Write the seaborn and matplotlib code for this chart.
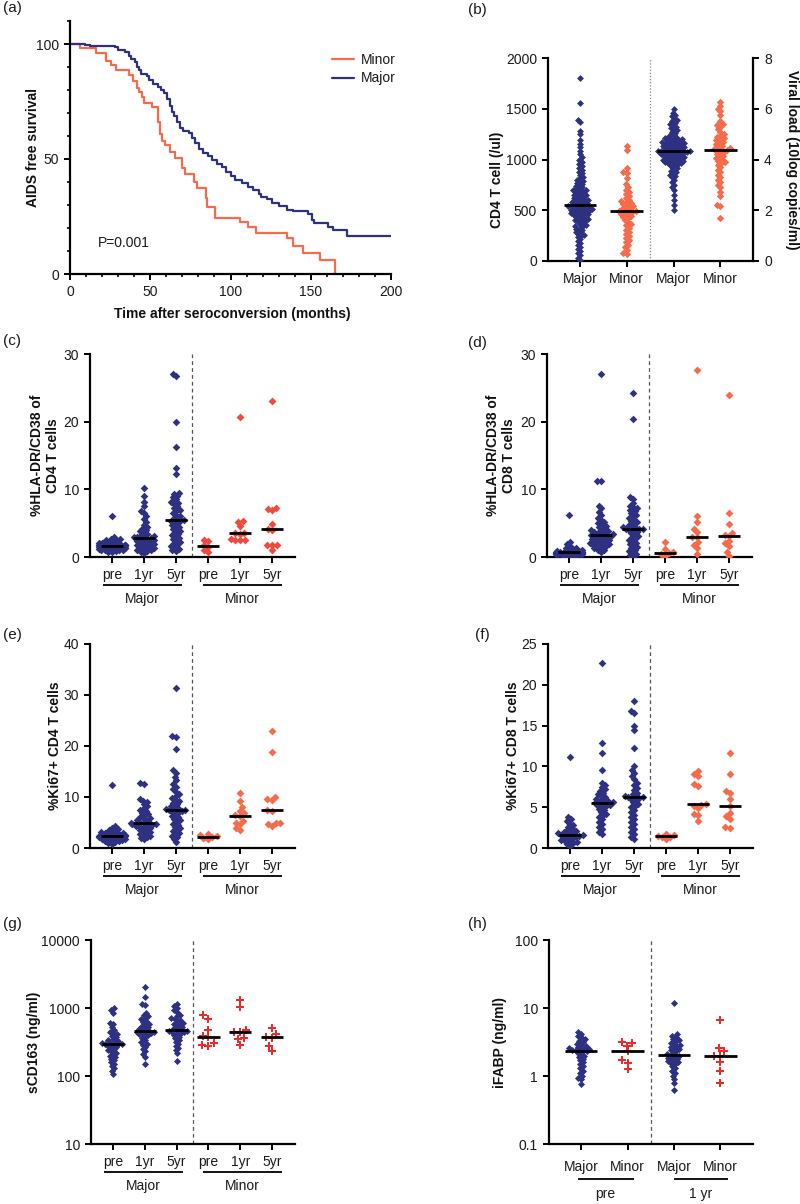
import warnings
warnings.filterwarnings('ignore')
import numpy as np
import pandas as pd
import matplotlib
matplotlib.use('Agg')
import matplotlib.pyplot as plt
import matplotlib.transforms as mtransforms
from matplotlib.ticker import MultipleLocator, NullLocator
import seaborn as sns

# ---------------- DATA ----------------
# (a) Kaplan-Meier AIDS free survival
km_minor_t = [0, 6, 16.5, 22.5, 25.5, 28.5, 37, 39.5, 41.5, 43, 45, 46, 51, 55, 56, 57.5, 59.5, 62.5,
              65.5, 70, 71.5, 77, 79, 84.5, 85.5, 90.5, 106, 111, 116, 135.5, 139, 145, 156, 165]
km_minor_s = [100, 98.1, 96.2, 92.6, 90.7, 88.7, 86.5, 84, 81, 79, 77, 74.5, 72.5, 66, 61, 58, 56, 53,
              50.5, 46, 43.5, 40, 37.5, 33, 29, 24.5, 22.5, 20.5, 18, 15.5, 12, 9, 6, 0]
km_major_t = [0, 9.5, 12.5, 28, 30, 34, 36.5, 38, 40.5, 42, 43, 44.5, 48, 49.5, 52, 55, 57, 58.5, 60.5, 62,
              63.5, 65, 66.5, 68.5, 70.5, 74, 76, 78, 80.5, 83, 86, 88.5, 91.5, 94.5, 97.5, 100, 103, 107,
              111, 114, 117.5, 119, 122.5, 126, 130, 135, 139, 148.5, 150.5, 152, 161, 164, 172.5, 200]
km_major_s = [100, 99.5, 99, 98.5, 97.5, 96.5, 95, 93.5, 92, 90, 88.5, 87, 86, 84.5, 82.5, 81.5, 80, 78.5,
              76, 73, 70.5, 68.5, 66, 63.5, 62, 61.5, 59, 57, 54.5, 52.5, 51.5, 49.5, 48, 46.5, 44.5, 42.5,
              41, 39.5, 38, 36.5, 35, 33.5, 32.5, 31, 29.5, 28, 27.5, 26, 23.5, 22, 20.5, 19, 16.5, 16.5]
km_p_text = "P=0.001"

# (b) CD4 count and viral load
cd4_major = [1800, 1560, 1390, 1370, 1280, 1250, 1190, 1150, 1120, 1080, 1050, 1020, 1000, 980, 960, 940,
             920, 900, 880, 870, 850, 830, 820, 800, 790, 780, 770, 760, 750, 740, 730, 720, 710, 700, 700,
             690, 680, 670, 660, 650, 650, 640, 630, 620, 610, 600, 600, 590, 580, 570, 560, 560, 550, 540,
             530, 525, 520, 515, 510, 505, 500, 495, 490, 485, 480, 470, 460, 455, 450, 440, 430, 420, 410,
             400, 395, 390, 380, 370, 360, 350, 345, 340, 330, 320, 310, 300, 290, 280, 270, 260, 250, 240,
             220, 200, 180, 160, 140, 120, 100, 80, 60, 30, 5, 620, 580, 540, 510, 470, 430, 600, 560, 490,
             650, 700, 680, 530, 460, 410]
cd4_minor = [1130, 1090, 920, 880, 870, 820, 760, 730, 700, 680, 660, 640, 620, 600, 590, 580, 570, 560,
             550, 540, 530, 520, 510, 500, 495, 490, 485, 480, 470, 460, 450, 440, 430, 420, 400, 380, 360,
             350, 330, 310, 290, 270, 250, 230, 210, 190, 160, 140, 110, 80, 70]
vl_major = [6.0, 5.85, 5.75, 5.7, 5.6, 5.55, 5.5, 5.45, 5.4, 5.35, 5.3, 5.25, 5.2, 5.15, 5.1, 5.05, 5.0, 4.95,
            4.9, 4.88, 4.85, 4.82, 4.8, 4.78, 4.75, 4.72, 4.7, 4.68, 4.65, 4.62, 4.6, 4.58, 4.55, 4.52, 4.5,
            4.48, 4.45, 4.42, 4.4, 4.38, 4.35, 4.33, 4.3, 4.3, 4.28, 4.25, 4.22, 4.2, 4.18, 4.15, 4.12, 4.1,
            4.08, 4.05, 4.02, 4.0, 3.98, 3.95, 3.92, 3.9, 3.88, 3.85, 3.82, 3.8, 3.75, 3.7, 3.65, 3.6, 3.55,
            3.5, 3.45, 3.4, 3.35, 3.3, 3.2, 3.1, 3.0, 2.9, 2.8, 2.6, 2.4, 2.2, 2.0, 4.6, 4.5, 4.4, 4.3, 4.2,
            4.1, 4.0, 4.55, 4.45, 4.35, 4.25, 4.15, 4.05, 4.65, 4.75, 4.85, 3.95, 3.85, 4.32, 4.28]
vl_minor = [6.25, 6.1, 6.0, 5.9, 5.75, 5.5, 5.4, 5.35, 5.3, 5.2, 5.1, 5.0, 4.95, 4.9, 4.85, 4.8, 4.75, 4.7,
            4.65, 4.6, 4.55, 4.5, 4.45, 4.42, 4.4, 4.38, 4.35, 4.3, 4.25, 4.2, 4.15, 4.1, 4.05, 4.0, 3.95,
            3.9, 3.85, 3.8, 3.7, 3.6, 3.5, 3.4, 3.3, 3.2, 3.1, 3.0, 2.9, 2.7, 2.55, 2.2, 2.15, 1.7]

# (c) %HLA-DR/CD38 of CD4 T cells
c_major_pre = [6.1, 2.9, 2.7, 2.6, 2.5, 2.4, 2.3, 2.2, 2.1, 2.0, 2.0, 1.9, 1.9, 1.8, 1.8, 1.8, 1.7, 1.7, 1.7,
               1.6, 1.6, 1.6, 1.5, 1.5, 1.5, 1.4, 1.4, 1.3, 1.3, 1.2, 1.2, 1.1, 1.1, 1.0, 1.0, 0.9, 0.8, 0.7]
c_major_1yr = [10.2, 9.0, 8.2, 7.5, 6.8, 6.5, 6.0, 5.6, 5.2, 4.8, 4.5, 4.2, 4.0, 3.8, 3.6, 3.4, 3.2, 3.1,
               3.0, 2.9, 2.9, 2.8, 2.7, 2.6, 2.5, 2.4, 2.3, 2.2, 2.1, 2.0, 1.9, 1.8, 1.7, 1.6, 1.5, 1.4,
               1.3, 1.2, 1.1, 1.0, 0.9, 0.8, 0.6]
c_major_5yr = [27.0, 26.8, 19.9, 16.3, 13.2, 12.2, 9.5, 9.3, 9.0, 8.8, 8.5, 8.2, 8.0, 7.8, 7.5, 7.2, 7.0,
               6.8, 6.5, 6.2, 6.0, 5.8, 5.6, 5.5, 5.4, 5.3, 5.2, 5.0, 4.8, 4.6, 4.4, 4.2, 4.0, 3.8, 3.6,
               3.4, 3.2, 3.0, 2.8, 2.6, 2.4, 2.2, 2.0, 1.8, 1.6, 1.4, 1.2, 1.0, 0.9]
c_minor_pre = [2.5, 2.3, 1.8, 1.5, 1.0, 0.8]
c_minor_1yr = [20.7, 5.3, 5.2, 4.6, 3.6, 3.5, 3.4, 2.6, 2.5, 2.5, 2.5]
c_minor_5yr = [23.0, 7.2, 7.1, 6.9, 4.9, 4.2, 4.0, 1.8, 1.8, 1.7, 1.0]

# (d) %HLA-DR/CD38 of CD8 T cells
d_major_pre = [6.2, 2.2, 1.9, 1.6, 1.4, 1.3, 1.2, 1.1, 1.0, 0.9, 0.9, 0.8, 0.8, 0.8, 0.7, 0.7, 0.7, 0.7,
               0.6, 0.6, 0.6, 0.5, 0.5, 0.5, 0.4, 0.4, 0.3, 0.3, 0.2, 0.2, 0.1]
d_major_1yr = [27.1, 11.3, 11.2, 7.6, 7.2, 6.6, 6.2, 5.8, 5.5, 5.2, 5.0, 4.8, 4.6, 4.4, 4.2, 4.0, 3.9, 3.8,
               3.7, 3.6, 3.5, 3.4, 3.3, 3.3, 3.2, 3.1, 3.0, 2.9, 2.8, 2.7, 2.6, 2.5, 2.4, 2.3, 2.2, 2.1,
               2.0, 1.9, 1.8, 1.7, 1.6, 1.5, 1.3, 1.1, 1.0, 0.8]
d_major_5yr = [24.3, 20.4, 8.8, 8.6, 8.0, 7.6, 7.4, 7.2, 7.0, 6.8, 6.5, 6.2, 6.0, 5.8, 5.5, 5.3, 5.1, 4.9,
               4.7, 4.5, 4.4, 4.3, 4.2, 4.2, 4.1, 4.0, 3.9, 3.7, 3.5, 3.3, 3.1, 2.9, 2.7, 2.5, 2.3, 2.1,
               1.9, 1.7, 1.5, 1.3, 1.1, 0.9, 0.7, 0.5, 0.3, 0.1]
d_minor_pre = [2.2, 1.2, 0.7, 0.6, 0.5, 0.2]
d_minor_1yr = [27.6, 6.1, 5.1, 4.2, 3.7, 3.0, 2.9, 2.2, 1.8, 1.3, 0.4]
d_minor_5yr = [23.9, 6.5, 4.9, 3.6, 3.3, 3.1, 2.3, 2.0, 1.6, 0.8, 0.2]

# (e) %Ki67+ CD4 T cells
e_major_pre = [12.3, 4.3, 4.0, 3.8, 3.6, 3.4, 3.2, 3.1, 3.0, 2.9, 2.8, 2.7, 2.6, 2.5, 2.4, 2.4, 2.3, 2.3,
               2.2, 2.2, 2.1, 2.0, 1.9, 1.8, 1.7, 1.6, 1.5, 1.4, 1.3, 1.2, 1.0, 0.8]
e_major_1yr = [12.7, 12.5, 9.6, 9.3, 9.0, 8.6, 8.2, 7.8, 7.5, 7.2, 6.9, 6.6, 6.3, 6.0, 5.8, 5.6, 5.4, 5.2,
               5.0, 4.9, 4.9, 4.8, 4.7, 4.6, 4.5, 4.4, 4.3, 4.2, 4.0, 3.8, 3.6, 3.4, 3.2, 3.0, 2.8, 2.6,
               2.4, 2.2, 2.0, 1.7]
e_major_5yr = [31.3, 21.9, 21.7, 19.5, 15.2, 14.8, 14.0, 13.3, 12.5, 12.0, 11.5, 11.0, 10.5, 10.2, 9.8, 9.5,
               9.2, 8.9, 8.6, 8.3, 8.0, 7.8, 7.6, 7.5, 7.4, 7.3, 7.2, 7.0, 6.8, 6.5, 6.2, 6.0, 5.7, 5.4,
               5.1, 4.8, 4.5, 4.2, 3.9, 3.6, 3.3, 3.0, 2.7, 2.4, 2.1, 1.8, 1.2]
e_minor_pre = [2.7, 2.6, 2.3, 2.2, 2.0, 1.8]
e_minor_1yr = [10.8, 9.2, 8.0, 7.2, 6.8, 6.4, 6.3, 5.3, 5.0, 4.7, 4.0, 3.5]
e_minor_5yr = [23.0, 18.8, 10.0, 9.6, 9.4, 7.4, 7.2, 5.0, 4.9, 4.8, 4.4]

# (f) %Ki67+ CD8 T cells
f_major_pre = [11.2, 3.8, 3.5, 3.3, 3.0, 2.8, 2.6, 2.4, 2.2, 2.1, 2.0, 1.9, 1.8, 1.7, 1.7, 1.6, 1.6, 1.5,
               1.5, 1.4, 1.3, 1.2, 1.1, 1.0, 0.9, 0.8, 0.7, 0.6, 0.5, 0.3]
f_major_1yr = [22.7, 12.9, 11.7, 9.5, 8.0, 7.7, 7.5, 7.2, 7.0, 6.8, 6.6, 6.4, 6.2, 6.0, 5.9, 5.8, 5.7, 5.6,
               5.5, 5.5, 5.4, 5.3, 5.2, 5.1, 5.0, 4.8, 4.6, 4.4, 4.2, 4.0, 3.8, 3.5, 3.2, 2.9, 2.6, 2.3,
               2.0, 1.7]
f_major_5yr = [18.0, 16.8, 16.5, 15.0, 14.4, 12.3, 10.0, 9.6, 9.2, 8.8, 8.4, 8.0, 7.7, 7.4, 7.1, 6.8, 6.6,
               6.4, 6.3, 6.2, 6.2, 6.1, 6.0, 5.8, 5.6, 5.4, 5.2, 5.0, 4.7, 4.4, 4.1, 3.8, 3.5, 3.2, 2.9,
               2.6, 2.3, 2.0, 1.7, 1.4, 1.1]
f_minor_pre = [1.7, 1.6, 1.5, 1.4, 1.4, 1.1]
f_minor_1yr = [9.4, 9.1, 8.8, 7.8, 7.6, 5.4, 5.3, 5.2, 4.9, 4.2, 4.0, 3.3]
f_minor_5yr = [11.7, 9.1, 7.0, 6.7, 6.0, 5.1, 4.3, 3.9, 3.6, 2.6, 2.5]

# (g) sCD163 (ng/ml)
g_major_pre = [1000, 930, 850, 600, 580, 520, 480, 450, 430, 410, 390, 370, 350, 340, 330, 320, 310, 305,
               300, 300, 295, 290, 280, 270, 260, 250, 240, 230, 220, 210, 200, 190, 180, 170, 160, 150,
               140, 130, 120, 108]
g_major_1yr = [2050, 1450, 1150, 1100, 850, 800, 760, 720, 680, 650, 620, 590, 570, 550, 530, 510, 490, 470,
               460, 450, 450, 440, 430, 420, 410, 400, 380, 360, 340, 320, 300, 290, 270, 250, 230, 210,
               190, 150]
g_major_5yr = [1150, 1080, 1000, 920, 860, 800, 760, 720, 690, 660, 630, 600, 580, 560, 540, 520, 500, 480,
               470, 460, 455, 450, 440, 430, 420, 400, 380, 360, 340, 320, 300, 280, 260, 240, 215, 165]
g_minor_pre = [780, 700, 470, 390, 370, 310, 290, 280]
g_minor_1yr = [1300, 1020, 470, 450, 440, 360, 350, 290]
g_minor_5yr = [510, 420, 380, 360, 280, 235]

# (h) iFABP (ng/ml)
h_pre_major = [4.5, 4.2, 3.9, 3.7, 3.5, 3.3, 3.2, 3.0, 2.9, 2.8, 2.7, 2.6, 2.55, 2.5, 2.45, 2.4, 2.4, 2.35,
               2.3, 2.2, 2.1, 2.0, 1.9, 1.8, 1.7, 1.6, 1.5, 1.4, 1.3, 1.2, 1.1, 1.0, 0.95, 0.9, 0.75]
h_pre_minor = [3.2, 3.1, 2.8, 2.3, 1.7, 1.55, 1.25]
h_1yr_major = [12.0, 4.1, 3.9, 3.7, 3.5, 3.4, 3.3, 3.1, 3.0, 2.9, 2.8, 2.7, 2.6, 2.5, 2.4, 2.3, 2.2, 2.1,
               2.05, 2.0, 1.95, 1.9, 1.85, 1.8, 1.75, 1.7, 1.65, 1.6, 1.55, 1.5, 1.4, 1.3, 1.2, 1.1, 1.0,
               0.9, 0.8, 0.62]
h_1yr_minor = [6.7, 2.6, 2.3, 2.0, 1.95, 1.6, 1.2, 0.8]

time_tick_labels = ['pre', '1yr', '5yr', 'pre', '1yr', '5yr']
group_tick_labels = ['Major', 'Minor', 'Major', 'Minor']

# ---------------- STYLE ----------------
NAVY = '#2e3182'
SALMON = '#f46c4c'
RED_C = '#ef4a3e'
RED = '#ee2b2b'

sns.set_theme(style='ticks')
plt.rcParams['font.family'] = ['Liberation Sans', 'DejaVu Sans']
plt.rcParams.update({
    'axes.linewidth': 1.6, 'axes.edgecolor': 'black',
    'xtick.major.width': 1.4, 'ytick.major.width': 1.4,
    'xtick.major.size': 4.5, 'ytick.major.size': 4.5,
    'xtick.minor.width': 1.2, 'ytick.minor.width': 1.2,
    'xtick.minor.size': 2.5, 'ytick.minor.size': 2.5,
    'xtick.labelsize': 10, 'ytick.labelsize': 10,
    'xtick.color': 'black', 'ytick.color': 'black',
    'xtick.labelcolor': '#1a1a1a', 'ytick.labelcolor': '#1a1a1a',
    'axes.labelsize': 10, 'axes.labelweight': 'bold', 'axes.labelcolor': '#111111',
    'text.color': '#1a1a1a',
})

W, H = 800, 1204
fig = plt.figure(figsize=(W / 100, H / 100), dpi=100)


def add_ax(l, r, t, b):
    return fig.add_axes([l / W, 1 - b / H, (r - l) / W, (b - t) / H])


def base_style(ax):
    for s in ['top', 'right']:
        ax.spines[s].set_visible(False)


def set_ylabel(ax, text, x, y=0.5, rotation=90):
    ax.set_ylabel(text, rotation=rotation, fontweight='bold', fontsize=10, linespacing=1.15)
    ax.yaxis.set_label_coords(x, y)
    ax.yaxis.label.set_verticalalignment('center')


def draw_swarm(ax, cats, series, groups, colors, markers, sizes, scales, log=False):
    """sizes: swarm spacing size (pt); scales: how much bigger the drawn marker is than that spacing."""
    rows = []
    for cat, vals, g in zip(cats, series, groups):
        for v in vals:
            rows.append((cat, v, g))
    df = pd.DataFrame(rows, columns=['cat', 'val', 'grp'])
    for g in dict.fromkeys(groups):
        if g is None:
            continue
        sub = df[df['grp'] == g]
        n_before = len(ax.collections)
        sns.swarmplot(data=sub, x='cat', y='val', order=cats, color=colors[g], marker=markers[g],
                      size=sizes[g], linewidth=0, ax=ax,
                      log_scale=(True if log else None), warn_thresh=1, zorder=3)
        grow = mtransforms.Affine2D().scale(scales[g])
        for coll in ax.collections[n_before:]:
            coll.set_paths([p.transformed(grow) for p in coll.get_paths()])
    for i, vals in enumerate(series):
        if len(vals):
            ax.hlines(np.median(vals), i - 0.35, i + 0.35, colors='black', lw=2, zorder=6)
    ax.set_xlabel('')


def group_lines(ax, spans, labels, line_off, text_off):
    tl = ax.get_xaxis_transform() + mtransforms.ScaledTranslation(0, -line_off / 100, fig.dpi_scale_trans)
    for (x0, x1), lab in zip(spans, labels):
        ax.plot([x0, x1], [0, 0], transform=tl, color='black', lw=1.3, clip_on=False,
                solid_capstyle='butt')
        ax.annotate(lab, xy=((x0 + x1) / 2, 0), xycoords=ax.get_xaxis_transform(),
                    xytext=(0, -text_off * 0.72), textcoords='offset points',
                    ha='center', va='center', fontsize=10)


def panel_label(x, y, s):
    fig.text(x / W, 1 - y / H, s, ha='left', va='center', fontsize=11, color='#1a1a1a')


# ---------------- (a) ----------------
ax = add_ax(70, 391, 21, 274)
base_style(ax)
sns.lineplot(x=km_minor_t, y=km_minor_s, drawstyle='steps-post', color=SALMON, lw=1.6,
             label='Minor', estimator=None, sort=False, ax=ax)
sns.lineplot(x=km_major_t, y=km_major_s, drawstyle='steps-post', color=NAVY, lw=1.6,
             label='Major', estimator=None, sort=False, ax=ax)
ax.set_xlim(0, 200)
ax.set_ylim(0, 110)
ax.set_xticks([0, 50, 100, 150, 200])
ax.set_yticks([0, 50, 100])
ax.xaxis.set_minor_locator(MultipleLocator(10))
ax.yaxis.set_minor_locator(MultipleLocator(10))
ax.set_xlabel('Time after seroconversion (months)', fontweight='bold', fontsize=10)
ax.xaxis.set_label_coords(0.505, -0.13)
ax.xaxis.label.set_verticalalignment('top')
set_ylabel(ax, 'AIDS free survival', -0.115, 0.5)
ax.legend(frameon=False, loc='upper left', bbox_to_anchor=(0.816, 0.875), fontsize=10,
          handlelength=1.6, handletextpad=0.5, labelspacing=0.35, borderaxespad=0, borderpad=0)
ax.text(17.5, 13.5, km_p_text, va='center', ha='left', fontsize=10)
panel_label(3, 8, '(a)')

# ---------------- (b) ----------------
ax = add_ax(548, 753, 58, 261)
ax2 = ax.twinx()
b_cats = ['cd4_major', 'cd4_minor', 'vl_major', 'vl_minor']
b_colors = {'Major': NAVY, 'Minor': SALMON}
b_markers = {'Major': 'D', 'Minor': 'D'}
b_sizes = {'Major': 2.2, 'Minor': 2.6}
b_scales = {'Major': 1.6, 'Minor': 1.45}
draw_swarm(ax, b_cats, [cd4_major, cd4_minor, [], []], ['Major', 'Minor', None, None],
           b_colors, b_markers, b_sizes, b_scales)
draw_swarm(ax2, b_cats, [[], [], vl_major, vl_minor], [None, None, 'Major', 'Minor'],
           b_colors, b_markers, b_sizes, b_scales)
for a in (ax, ax2):
    a.spines['top'].set_visible(False)
ax.spines['right'].set_visible(False)
ax2.spines['left'].set_visible(False)
ax2.spines['bottom'].set_visible(False)
ax2.spines['right'].set_linewidth(1.6)
ax.set_xlim(-0.685, 3.7)
ax2.set_xlim(-0.685, 3.7)
ax.set_ylim(0, 2000)
ax.set_yticks([0, 500, 1000, 1500, 2000])
ax2.set_ylim(0, 8)
ax2.set_yticks([0, 2, 4, 6, 8])
ax.set_xticks(range(4))
ax.set_xticklabels(group_tick_labels)
ax.axvline(1.5, color='#888888', lw=0.9, ls=(0, (1, 1.5)), zorder=1)
set_ylabel(ax, 'CD4 T cell (/ul)', -0.25, 0.40)
ax2.set_ylabel('Viral load (10log copies/ml)', rotation=270, fontweight='bold', fontsize=10)
ax2.yaxis.set_label_coords(1.19, 0.5)
ax2.yaxis.label.set_verticalalignment('center')
panel_label(468, 10, '(b)')

# ---------------- (c)-(g) ----------------
six_cats = ['Major pre', 'Major 1yr', 'Major 5yr', 'Minor pre', 'Minor 1yr', 'Minor 5yr']
six_groups = ['Major', 'Major', 'Major', 'Minor', 'Minor', 'Minor']
group_spans = [(-0.28, 2.19), (2.84, 5.31)]


def six_panel(box, series, minor_color, ylim, yticks, ylabel, lab_x, plabel, plabel_xy,
              log=False, yticklabels=None, minor_marker='D', major_size=2.6, minor_size=3.2,
              major_scale=1.5, minor_scale=1.25):
    ax = add_ax(*box)
    base_style(ax)
    draw_swarm(ax, six_cats, series, six_groups, {'Major': NAVY, 'Minor': minor_color},
               {'Major': 'D', 'Minor': minor_marker}, {'Major': major_size, 'Minor': minor_size},
               {'Major': major_scale, 'Minor': minor_scale}, log=log)
    ax.set_xlim(-0.69, 5.72)
    ax.set_ylim(*ylim)
    ax.set_yticks(yticks)
    if yticklabels is not None:
        ax.set_yticklabels(yticklabels)
    ax.yaxis.set_minor_locator(NullLocator())
    ax.set_xticks(range(6))
    ax.set_xticklabels(time_tick_labels)
    ax.axvline(2.5, color='#555555', lw=0.9, ls=(0, (3, 2.5)), zorder=1)
    set_ylabel(ax, ylabel, lab_x, 0.5)
    group_lines(ax, group_spans, ['Major', 'Minor'], 28, 42)
    panel_label(plabel_xy[0], plabel_xy[1], plabel)
    return ax


six_panel((90, 295, 354, 557), [c_major_pre, c_major_1yr, c_major_5yr, c_minor_pre, c_minor_1yr, c_minor_5yr],
          RED_C, (0, 30), [0, 10, 20, 30], '%HLA-DR/CD38 of\nCD4 T cells', -0.22, '(c)', (3, 341))
six_panel((547, 752, 354, 557), [d_major_pre, d_major_1yr, d_major_5yr, d_minor_pre, d_minor_1yr, d_minor_5yr],
          SALMON, (0, 30), [0, 10, 20, 30], '%HLA-DR/CD38 of\nCD8 T cells', -0.225, '(d)', (468, 343))
six_panel((90, 295, 644, 848), [e_major_pre, e_major_1yr, e_major_5yr, e_minor_pre, e_minor_1yr, e_minor_5yr],
          SALMON, (0, 40), [0, 10, 20, 30, 40], '%Ki67+ CD4 T cells', -0.17, '(e)', (3, 635))
six_panel((548, 753, 644, 848), [f_major_pre, f_major_1yr, f_major_5yr, f_minor_pre, f_minor_1yr, f_minor_5yr],
          SALMON, (0, 25), [0, 5, 10, 15, 20, 25], '%Ki67+ CD8 T cells', -0.17, '(f)', (475, 635))
six_panel((91, 295, 940, 1144), [g_major_pre, g_major_1yr, g_major_5yr, g_minor_pre, g_minor_1yr, g_minor_5yr],
          RED, (10, 10000), [10, 100, 1000, 10000], 'sCD163 (ng/ml)', -0.28, '(g)', (3, 924),
          log=True, yticklabels=['10', '100', '1000', '10000'], minor_marker='P',
          major_size=2.4, minor_size=4.2, major_scale=1.5, minor_scale=1.25)

# ---------------- (h) ----------------
ax = add_ax(549, 753, 940, 1144)
base_style(ax)
h_cats = ['pre Major', 'pre Minor', '1yr Major', '1yr Minor']
draw_swarm(ax, h_cats, [h_pre_major, h_pre_minor, h_1yr_major, h_1yr_minor], ['Major', 'Minor', 'Major', 'Minor'],
           {'Major': NAVY, 'Minor': RED}, {'Major': 'D', 'Minor': 'P'}, {'Major': 2.4, 'Minor': 4.2},
           {'Major': 1.5, 'Minor': 1.25}, log=True)
ax.set_xlim(-0.69, 3.7)
ax.set_ylim(0.1, 100)
ax.set_yticks([0.1, 1, 10, 100])
ax.set_yticklabels(['0.1', '1', '10', '100'])
ax.yaxis.set_minor_locator(NullLocator())
ax.set_xticks(range(4))
ax.set_xticklabels(group_tick_labels)
ax.tick_params(axis='x', pad=7)
ax.axvline(1.5, color='#555555', lw=0.9, ls=(0, (3, 2.5)), zorder=1)
set_ylabel(ax, 'iFABP (ng/ml)', -0.24, 0.5)
group_lines(ax, [(-0.07, 1.13), (1.99, 3.17)], ['pre', '1 yr'], 35, 50)
panel_label(468, 924, '(h)')

fig.savefig('out.png', dpi=100)
